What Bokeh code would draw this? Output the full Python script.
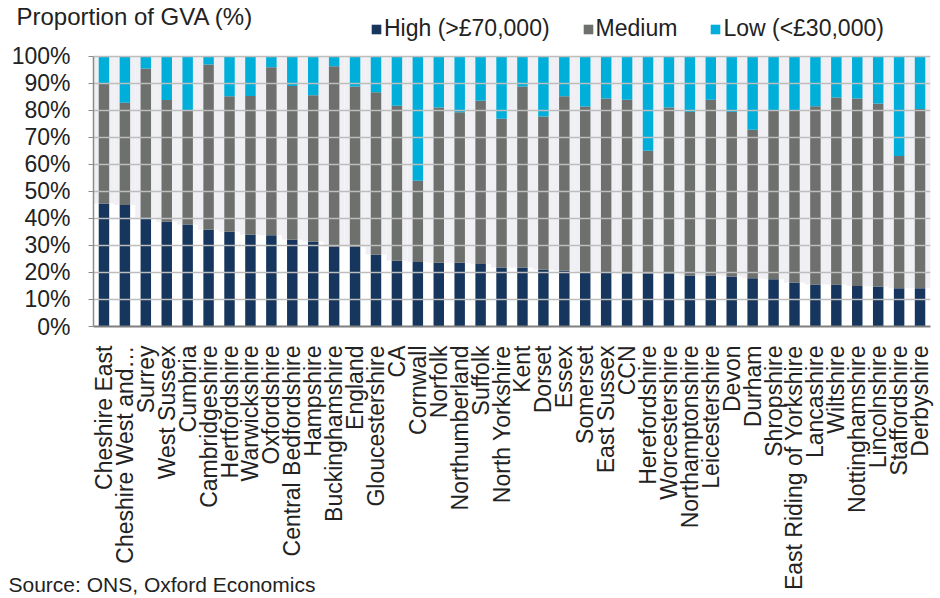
import math
from bokeh.plotting import figure
from bokeh.models import (ColumnDataSource, FactorRange, Range1d, FixedTicker,
                          PrintfTickFormatter, Legend, LegendItem, Title)
from bokeh.embed import file_html
from bokeh.resources import INLINE

areas = ["Cheshire East", "Cheshire West and\u2026", "Surrey", "West Sussex", "Cumbria",
         "Cambridgeshire", "Hertfordshire", "Warwickshire", "Oxfordshire",
         "Central Bedfordshire", "Hampshire", "Buckinghamshire", "England",
         "Gloucestershire", "CA", "Cornwall", "Norfolk", "Northumberland", "Suffolk",
         "North Yorkshire", "Kent", "Dorset", "Essex", "Somerset", "East Sussex", "CCN",
         "Herefordshire", "Worcestershire", "Northamptonshire", "Leicestershire",
         "Devon", "Durham", "Shropshire", "East Riding of Yorkshire", "Lancashire",
         "Wiltshire", "Nottinghamshire", "Lincolnshire", "Staffordshire", "Derbyshire"]

high = [45.5, 44.9, 40.3, 38.7, 37.7, 35.8, 35.0, 33.9, 33.7, 32.1, 31.3, 29.5, 29.5,
        26.5, 24.3, 23.8, 23.6, 23.6, 23.1, 21.8, 21.7, 21.0, 20.6, 20.0, 20.0, 19.6,
        19.6, 19.6, 18.9, 18.9, 18.5, 17.8, 17.5, 16.3, 15.5, 15.5, 15.0, 14.8, 14.1, 14.1]

medium = [44.4, 37.8, 55.1, 45.0, 42.3, 61.1, 50.1, 51.3, 62.1, 56.8, 54.2, 66.7, 59.2,
          60.1, 57.3, 30.1, 57.4, 55.6, 60.4, 55.0, 67.0, 56.6, 64.5, 61.3, 64.3, 64.2,
          45.4, 61.4, 60.4, 64.9, 60.8, 54.9, 62.3, 63.7, 65.9, 69.2, 69.3, 67.6, 48.9, 66.3]

low = [10.1, 17.3, 4.6, 16.3, 20.0, 3.1, 14.9, 14.8, 4.2, 11.1, 14.5, 3.8, 11.3,
       13.4, 18.4, 46.1, 19.0, 20.8, 16.5, 23.2, 11.3, 22.4, 14.9, 18.7, 15.7, 16.2,
       35.0, 19.0, 20.7, 16.2, 20.7, 27.3, 20.2, 20.0, 18.6, 15.3, 15.7, 17.6, 37.0, 19.6]

y_ticks = [0, 10, 20, 30, 40, 50, 60, 70, 80, 90, 100]

series = ["high", "medium", "low"]
labels = ["High (>\u00a370,000)", "Medium", "Low (<\u00a330,000)"]
colors = ["#17365D", "#6D706D", "#00AEDA"]

FONT = "Liberation Sans"
TXT = "#222222"

# layout constants (pixels)
W, H = 938, 596
FRAME_LEFT, FRAME_RIGHT_PAD = 93, 8
Y100_PX, Y0_PX = 55.5, 326.0

# can Title take a negative standoff (lets it overlap the top of the frame)?
probe = Title(text="")
try:
    probe.standoff = -30
    NEG_OK = True
except Exception:
    NEG_OK = False

TOP = 14 if NEG_OK else 32
y_top = 100.0 * (Y0_PX - TOP) / (Y0_PX - Y100_PX)

src = ColumnDataSource(dict(area=areas, high=high, medium=medium, low=low,
                            total=[h + m + l for h, m, l in zip(high, medium, low)]))

p = figure(x_range=FactorRange(*areas), y_range=Range1d(0, y_top),
           width=W, height=H, output_backend="svg", toolbar_location=None,
           min_border_left=FRAME_LEFT, min_border_right=FRAME_RIGHT_PAD,
           min_border_top=TOP, min_border_bottom=int(H - Y0_PX))
p.x_range.range_padding = 0
p.outline_line_color = None

sh = p.vbar(x="area", bottom="high", top="total", width=1.0, source=src,
            fill_color="#F0F0F4", line_color=None)
sh.level = "underlay"

rs = p.vbar_stack(series, x="area", width=0.5, source=src, color=colors,
                  line_color=None)

p.xgrid.grid_line_color = None
p.ygrid.grid_line_color = "#BDBDBD"
p.ygrid.grid_line_width = 1.5
p.ygrid.level = "glyph"

p.yaxis.ticker = FixedTicker(ticks=y_ticks)
p.yaxis.bounds = (y_ticks[0], y_ticks[-1])
p.yaxis.formatter = PrintfTickFormatter(format="%d%%")
p.yaxis.axis_line_color = "#8C8C8C"
p.yaxis.axis_line_width = 1.5
p.yaxis.major_tick_line_color = "#8C8C8C"
p.yaxis.major_tick_out = 5
p.yaxis.major_tick_in = 0
p.yaxis.minor_tick_line_color = None
p.yaxis.major_label_standoff = 18
p.yaxis.major_label_text_font = FONT
p.yaxis.major_label_text_font_size = "23px"
p.yaxis.major_label_text_color = TXT

p.xaxis.axis_line_color = "#7F7F7F"
p.xaxis.axis_line_width = 2
p.xaxis.major_tick_line_color = None
p.xaxis.minor_tick_line_color = None
p.xaxis.major_label_orientation = math.pi / 2
p.xaxis.major_label_standoff = 13
p.xaxis.major_label_text_font = FONT
p.xaxis.major_label_text_font_size = "23px"
p.xaxis.major_label_text_color = TXT

p.title.text = "Proportion of GVA (%)"
p.title.align = "left"
p.title.offset = -77
p.title.standoff = -31 if NEG_OK else 0
p.title.text_font = FONT
p.title.text_font_size = "24px"
p.title.text_font_style = "normal"
p.title.text_color = TXT

legend = Legend(items=[LegendItem(label=lab, renderers=[r]) for lab, r in zip(labels, rs)],
                orientation="horizontal", location=(277, 284 if NEG_OK else 268),
                glyph_width=12, glyph_height=12, label_standoff=2, spacing=32,
                padding=0, margin=0, border_line_color=None,
                background_fill_alpha=0, label_text_font=FONT,
                label_text_font_size="23px", label_text_color=TXT)
p.add_layout(legend, "center")

p.add_layout(Title(text="Source: ONS, Oxford Economics", align="left", offset=-85,
                   vertical_align="top", standoff=-41 if NEG_OK else 0,
                   text_font=FONT, text_font_size="21px",
                   text_font_style="normal", text_color=TXT), "below")

open("out.html", "w").write(file_html(p, INLINE))
